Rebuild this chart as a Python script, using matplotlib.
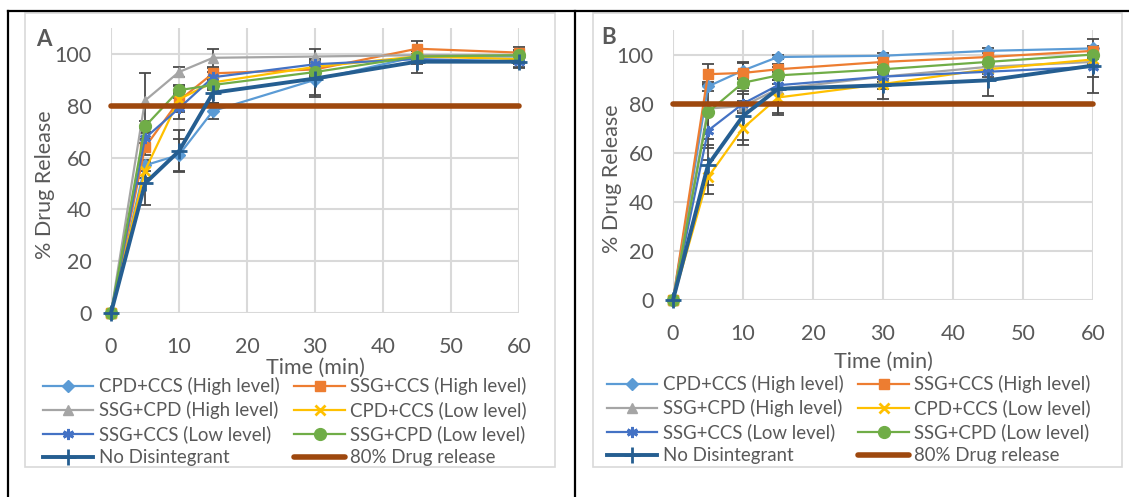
"""Dissolution profiles (panels A and B) -> out.png"""

import matplotlib.pyplot as plt
from matplotlib.lines import Line2D

plt.rcParams["font.family"] = ["Lato", "DejaVu Sans"]

TIME = [0, 5, 10, 15, 30, 45, 60]
LABELS = [
    "CPD+CCS (High level)",
    "SSG+CCS (High level)",
    "SSG+CPD (High level)",
    "CPD+CCS (Low level)",
    "SSG+CCS (Low level)",
    "SSG+CPD (Low level)",
    "No Disintegrant",
]

# panel A
A_CPD_CCS_HIGH = [0, 57, 61, 78, 90, 99, 99]
A_SSG_CCS_HIGH = [0, 64, 82, 92.5, 94, 102, 100.5]
A_SSG_CPD_HIGH = [0, 82, 93, 98.5, 99, 99.5, 99.5]
A_CPD_CCS_LOW = [0, 55, 82.5, 89, 95, 99, 98]
A_SSG_CCS_LOW = [0, 67.5, 79, 91, 96, 98, 97]
A_SSG_CPD_LOW = [0, 72, 86, 88, 93, 99, 99.5]
A_NO_DIS = [0, 50, 62.5, 85, 90.5, 97, 97]

A_ERR = [
    [0, 2, 6, 3, 6, 2, 2],
    [0, 3, 3, 2, 2, 3, 2],
    [0, 10.5, 2, 3.5, 3, 2, 2],
    [0, 3, 5, 2, 2, 2, 2],
    [0, 2, 4, 2, 2, 2, 2],
    [0, 2, 2, 2, 2, 2, 2],
    [0, 8.5, 8, 4, 7, 4.5, 2.5],
]

# panel B
B_CPD_CCS_HIGH = [0, 87, 93.5, 99, 99.5, 101.5, 102.5]
B_SSG_CCS_HIGH = [0, 92, 92.5, 94, 97, 99, 101.5]
B_SSG_CPD_HIGH = [0, 78, 79, 86, 91, 95, 97]
B_CPD_CCS_LOW = [0, 50, 70, 82.5, 88, 94, 98]
B_SSG_CCS_LOW = [0, 69, 80, 87.5, 91, 93, 95]
B_SSG_CPD_LOW = [0, 76.5, 88.5, 91.5, 94, 97, 100]
B_NO_DIS = [0, 55, 75, 86, 87.5, 89.5, 95.5]

B_ERR = [
    [0, 2, 3.5, 1, 1, 1, 1],
    [0, 4, 4, 1, 2, 2, 1],
    [0, 2, 2, 2, 2, 2, 2],
    [0, 7, 7, 7, 2, 2, 2],
    [0, 7, 4, 2, 2, 2, 4],
    [0, 11, 2, 2, 2, 2, 2],
    [0, 8, 10, 10, 5.5, 6.5, 11],
]

TARGET = 80

COLORS = ["#5B9BD5", "#ED7D31", "#A5A5A5", "#FFC000", "#4472C4", "#70AD47", "#255E91"]
MARKERS = ["D", "s", "^", "x", (6, 2, 0), "o", "+"]
MSIZES = [6, 7.5, 7, 7, 8, 8.5, 11]
LWIDTHS = [1.6, 1.6, 1.6, 1.6, 1.6, 1.6, 2.8]
TXT = "#595959"
GRID = "#D9D9D9"
W, H = 1129, 497
FS_TICK = 15.5
FS_LEG = 13.4


def fx(px):
    return px / W


def fy(py):
    return 1 - py / H


def draw_panel(fig, rect, series, errs, letter, letter_xy, ylab_x, xlab_y, leg_xy, colsp):
    ax = fig.add_axes(rect)
    for i, ys in enumerate(series):
        ax.errorbar(TIME, ys, yerr=errs[i], fmt="none", ecolor="#4a4a4a",
                    elinewidth=1.3, capsize=4.5, capthick=1.3, zorder=2, clip_on=False)
    handles = []
    for i, ys in enumerate(series):
        mk = MARKERS[i]
        filled = mk not in ("x", "+") and not isinstance(mk, tuple)
        ln, = ax.plot(TIME, ys, color=COLORS[i], lw=LWIDTHS[i], marker=mk,
                      ms=MSIZES[i], mew=2 if not filled else 1,
                      mec=COLORS[i], mfc=COLORS[i], zorder=3 + (i == 6) * 2,
                      clip_on=False)
        handles.append(ln)
    tl, = ax.plot(TIME, [TARGET] * len(TIME), color="#9E480E", lw=4,
                  solid_capstyle="round", zorder=4, clip_on=False)
    handles.append(tl)

    ax.set_xlim(0, 60)
    ax.set_ylim(0, 110)
    ax.set_xticks(range(0, 61, 10))
    ax.set_yticks(range(0, 101, 20))
    ax.grid(color=GRID, lw=1.5)
    ax.set_axisbelow(True)
    for s in ax.spines.values():
        s.set_visible(False)
    ax.tick_params(axis="y", length=0, labelsize=FS_TICK, labelcolor=TXT, pad=14)
    ax.tick_params(axis="x", length=0, labelsize=FS_TICK, labelcolor=TXT, pad=17)

    fig.text(fx(ylab_x), rect[1] + rect[3] * 0.45, "% Drug Release", rotation=90,
             ha="center", va="center", fontsize=FS_TICK, color=TXT)
    fig.text(rect[0] + rect[2] / 2, fy(xlab_y), "Time (min)", ha="center",
             va="center", fontsize=FS_TICK, color=TXT)
    fig.text(fx(letter_xy[0]), fy(letter_xy[1]), letter, fontsize=16,
             fontweight="bold", color=TXT, ha="left", va="center")

    labels = LABELS + ["80% Drug release"]
    order = [0, 2, 4, 6, 1, 3, 5, 7]
    leg = fig.legend([handles[k] for k in order], [labels[k] for k in order],
                     ncol=2, loc="upper left", bbox_to_anchor=(fx(leg_xy[0]), fy(leg_xy[1])),
                     frameon=False, fontsize=FS_LEG, handlelength=2.7, handletextpad=0.3,
                     columnspacing=colsp, labelspacing=0.33, borderpad=0,
                     borderaxespad=0)
    for t in leg.get_texts():
        t.set_color(TXT)
    return ax


fig = plt.figure(figsize=(W / 100, H / 100), dpi=100)

# chart frames and the table lines around them
for x0, x1 in [(25, 555), (593, 1122)]:
    fig.add_artist(plt.Rectangle((fx(x0), fy(467)), fx(x1 - x0), (467 - 13) / H,
                                 fill=False, ec=GRID, lw=1.2, transform=fig.transFigure))
for xs, ys in [([8, 1129], [11, 11]), ([8, 8], [11, 497]), ([575, 575], [11, 497])]:
    fig.add_artist(Line2D([fx(v) for v in xs], [fy(v) for v in ys], color="black",
                          lw=1.6, transform=fig.transFigure))

draw_panel(fig, [fx(111), fy(313), fx(408), (313 - 28) / H],
           [A_CPD_CCS_HIGH, A_SSG_CCS_HIGH, A_SSG_CPD_HIGH, A_CPD_CCS_LOW,
            A_SSG_CCS_LOW, A_SSG_CPD_LOW, A_NO_DIS],
           A_ERR, "A", (36, 39), 45, 368, (43, 377), 0.8)
draw_panel(fig, [fx(673), fy(300), fx(420), (300 - 30) / H],
           [B_CPD_CCS_HIGH, B_SSG_CCS_HIGH, B_SSG_CPD_HIGH, B_CPD_CCS_LOW,
            B_SSG_CCS_LOW, B_SSG_CPD_LOW, B_NO_DIS],
           B_ERR, "B", (601, 38), 612, 362, (607, 375), 0.8)

fig.savefig("out.png", dpi=100)
